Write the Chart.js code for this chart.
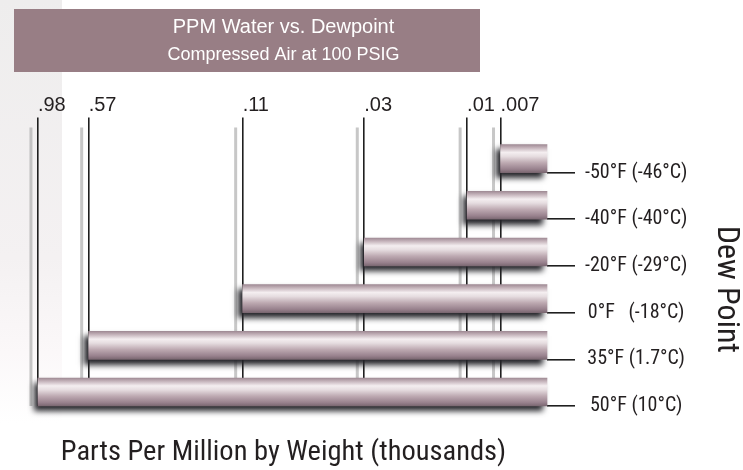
<!DOCTYPE html>
<html>
<head>
<meta charset="utf-8">
<script src="https://cdn.jsdelivr.net/npm/chart.js@4.4.1/dist/chart.umd.min.js"></script>
<style>
  html, body { margin: 0; padding: 0; }
  body {
    width: 743px; height: 470px; overflow: hidden;
    background:
      linear-gradient(to bottom, #eeeded 0%, #f4f1f2 55%, #fbf8f9 75%, #ffffff 90%) 0 0 / 62px 100% no-repeat,
      #ffffff;
  }
  #wrap { position: relative; width: 743px; height: 470px; }
</style>
</head>
<body>
<div id="wrap"><canvas id="c" width="743" height="470"></canvas></div>
<script>
// ---- data ----
const dewPoints   = ['-50°F (-46°C)', '-40°F (-40°C)', '-20°F (-29°C)', '0°F   (-18°C)', '35°F (1.7°C)', '50°F (10°C)'];
const ppmWater    = [0.007, 0.01, 0.03, 0.11, 0.57, 0.98];      // thousands of ppm by weight
const tickValues  = [0.98, 0.57, 0.11, 0.03, 0.01, 0.007];
const tickLabels  = ['.98', '.57', '.11', '.03', '.01', '.007'];
const titleText   = 'PPM Water vs. Dewpoint';
const subtitleText= 'Compressed Air at 100 PSIG';
const xTitleText  = 'Parts Per Million by Weight (thousands)';
const yTitleText  = 'Dew Point';
// axis range (reversed log axis)
const axisMin = 0.00426;
const axisMax = 1.187;

// ---- styles ----
const INK = '#231f20';
const NARROW = "'Liberation Sans Narrow', 'Roboto Condensed', 'DejaVu Sans Condensed', sans-serif";
const SANS = "'Liberation Sans', Arial, sans-serif";
const BAR_H = 28;

function barGradient(c) {
  const chart = c.chart;
  const ys = chart.scales.y;
  if (!chart.chartArea || !ys) return '#b9a4ac';
  const base = ys.getPixelForValue(c.dataIndex);
  const top = base - BAR_H, bot = base;
  const g = chart.ctx.createLinearGradient(0, top, 0, bot);
  g.addColorStop(0.00, '#a08b95');
  g.addColorStop(0.12, '#c6b5bc');
  g.addColorStop(0.28, '#f4eef0');
  g.addColorStop(0.42, '#e6dde0');
  g.addColorStop(0.65, '#bda9b1');
  g.addColorStop(0.88, '#98818d');
  g.addColorStop(1.00, '#7a6771');
  return g;
}

const decor = {
  id: 'decor',
  beforeDraw(chart) {
    const ctx = chart.ctx;
    ctx.save();
    ctx.fillStyle = '#987e85';
    ctx.fillRect(14, 9, 466, 63);
    ctx.restore();
  },
  beforeDatasetsDraw(chart) {
    const ctx = chart.ctx;
    const xs = chart.scales.x;
    // soft grey echo of each grid line
    ctx.save();
    ctx.strokeStyle = 'rgba(175,175,175,0.7)';
    ctx.lineWidth = 3;
    xs.ticks.forEach(t => {
      const px = xs.getPixelForValue(t.value) - 7;
      ctx.beginPath();
      ctx.moveTo(px, xs.bottom - xs.options.grid.tickLength + 10);
      ctx.lineTo(px, chart.chartArea.bottom);
      ctx.stroke();
    });
    ctx.restore();
    // drop shadow for the bars
    ctx.save();
    ctx.shadowColor = 'rgba(35,35,40,1)';
    ctx.shadowBlur = 6;
    ctx.shadowOffsetX = -4;
    ctx.shadowOffsetY = 5;
  },
  afterDatasetsDraw(chart) {
    chart.ctx.restore();
  }
};

new Chart(document.getElementById('c'), {
  type: 'bar',
  data: {
    labels: dewPoints,
    datasets: [
      {
        label: 'PPM water',
        data: ppmWater.map(v => [v, axisMin]),
        backgroundColor: barGradient,
        borderWidth: 0,
        barThickness: BAR_H,
        clip: false
      },
      {
        label: '',
        data: ppmWater.map(() => [axisMin, axisMin]),
        backgroundColor: 'rgba(0,0,0,0)',
        borderWidth: 0,
        barThickness: BAR_H,
        clip: false
      }
    ]
  },
  options: {
    indexAxis: 'y',
    responsive: false,
    animation: false,
    devicePixelRatio: 1,
    layout: { padding: { left: 20, right: 0, top: 0, bottom: 0 } },
    plugins: {
      legend: { display: false },
      tooltip: { enabled: false },
      title: {
        display: true, text: titleText, color: '#ffffff', fullSize: false,
        font: { family: SANS, size: 20, weight: 'normal', lineHeight: 1.2 },
        padding: { top: 15, bottom: 0 }
      },
      subtitle: {
        display: true, text: subtitleText, color: '#ffffff', fullSize: false,
        font: { family: SANS, size: 18, weight: 'normal', lineHeight: 1.2 },
        padding: { top: 5, bottom: 28 }
      }
    },
    scales: {
      x: {
        type: 'logarithmic',
        position: 'top',
        reverse: true,
        min: axisMin,
        max: axisMax,
        bounds: 'data',
        afterBuildTicks: (s) => { s.ticks = tickValues.map(v => ({ value: v })); },
        ticks: {
          autoSkip: false, maxRotation: 0, minRotation: 0, align: 'start', padding: 0,
          color: INK, font: { family: SANS, size: 20, lineHeight: 1.2 },
          callback: (v, i) => tickLabels[i]
        },
        grid: { color: '#1f1f1f', lineWidth: 1.6, tickLength: 55, drawOnChartArea: true, drawTicks: true },
        border: { display: false }
      },
      x2: {
        type: 'linear',
        position: 'bottom',
        grid: { display: false, drawTicks: false },
        border: { display: false },
        ticks: { display: false },
        title: {
          display: true, text: xTitleText, color: INK,
          font: { family: NARROW, size: 28.5, lineHeight: 1.2 },
          padding: { top: 29.8, bottom: 0 }
        }
      },
      y: {
        type: 'category',
        position: 'right',
        offset: false,
        grid: { offset: false, drawOnChartArea: false, drawTicks: true, tickLength: 28, color: '#1f1f1f', lineWidth: 1.6 },
        border: { display: false },
        ticks: { crossAlign: 'center', padding: 10, color: INK, font: { family: NARROW, size: 20, lineHeight: 1.2 } },
        title: {
          display: true, text: yTitleText, color: INK,
          font: { family: NARROW, size: 32, lineHeight: 1.2 },
          padding: { top: -2, bottom: 0 }
        },
        afterFit: (s) => { s.width = 196; }
      }
    }
  },
  plugins: [decor]
});
</script>
</body>
</html>
